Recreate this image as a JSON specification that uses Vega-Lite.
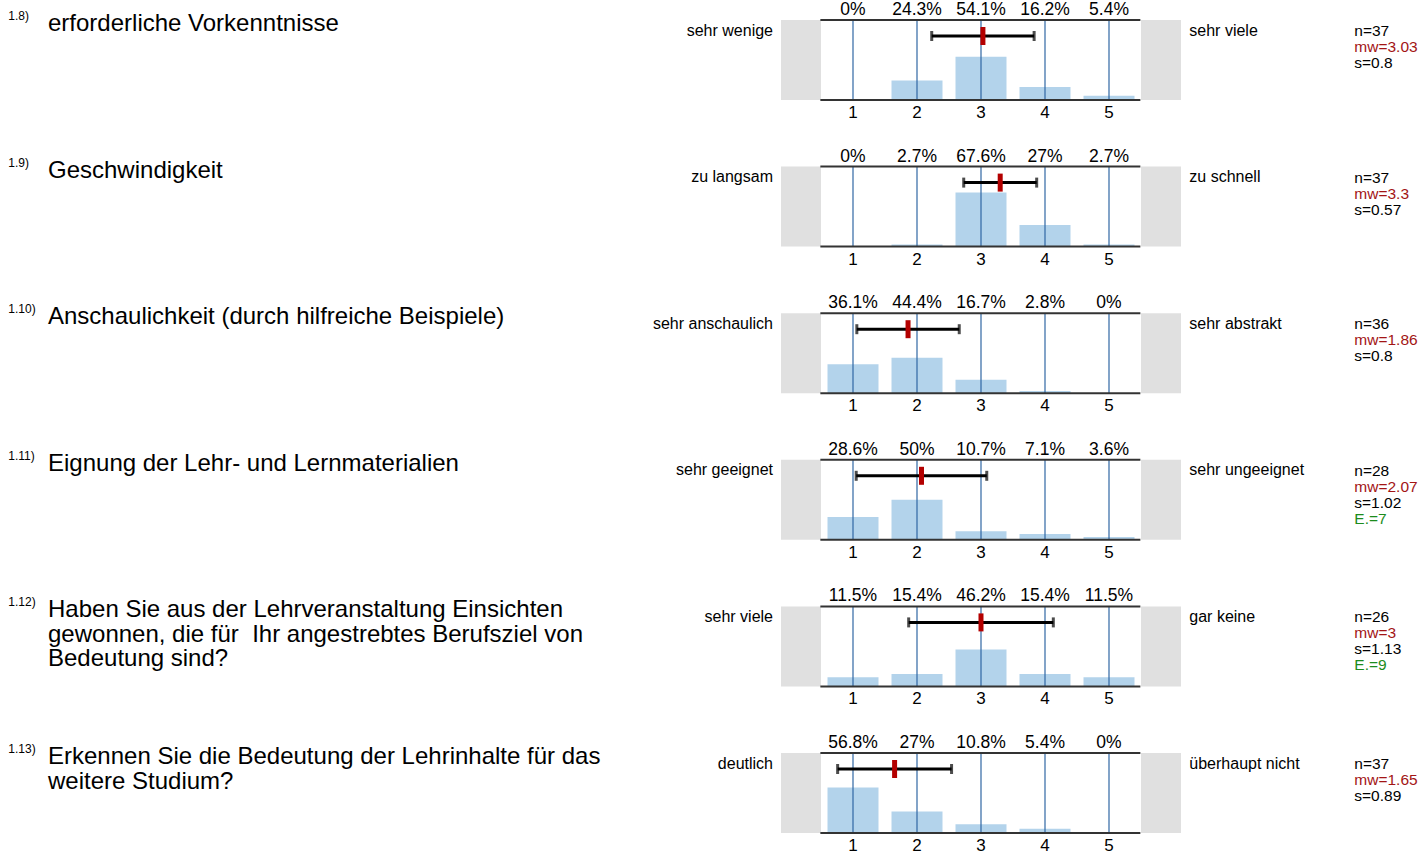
{
  "$schema": "https://vega.github.io/schema/vega-lite/v6.json",
  "padding": 0,
  "background": "white",
  "bounds": "flush",
  "config": {
    "view": {"stroke": null},
    "axis": {"disable": true},
    "font": "Liberation Sans",
    "text": {"font": "Liberation Sans", "color": "black"}
  },
  "data": {
    "values": [
      {"row": 1, "nr": "1.8)", "q": "erforderliche Vorkenntnisse", "left": "sehr wenige", "right": "sehr viele", "n": 37, "mw": 3.03, "s": 0.8},
      {"row": 1, "cat": 1, "p": 0},
      {"row": 1, "cat": 2, "p": 0.243},
      {"row": 1, "cat": 3, "p": 0.541},
      {"row": 1, "cat": 4, "p": 0.162},
      {"row": 1, "cat": 5, "p": 0.054},
      {"row": 2, "nr": "1.9)", "q": "Geschwindigkeit", "left": "zu langsam", "right": "zu schnell", "n": 37, "mw": 3.3, "s": 0.57},
      {"row": 2, "cat": 1, "p": 0},
      {"row": 2, "cat": 2, "p": 0.027},
      {"row": 2, "cat": 3, "p": 0.676},
      {"row": 2, "cat": 4, "p": 0.27},
      {"row": 2, "cat": 5, "p": 0.027},
      {"row": 3, "nr": "1.10)", "q": "Anschaulichkeit (durch hilfreiche Beispiele)", "left": "sehr anschaulich", "right": "sehr abstrakt", "n": 36, "mw": 1.86, "s": 0.8},
      {"row": 3, "cat": 1, "p": 0.361},
      {"row": 3, "cat": 2, "p": 0.444},
      {"row": 3, "cat": 3, "p": 0.167},
      {"row": 3, "cat": 4, "p": 0.028},
      {"row": 3, "cat": 5, "p": 0},
      {"row": 4, "nr": "1.11)", "q": "Eignung der Lehr- und Lernmaterialien", "left": "sehr geeignet", "right": "sehr ungeeignet", "n": 28, "mw": 2.07, "s": 1.02, "E": 7},
      {"row": 4, "cat": 1, "p": 0.286},
      {"row": 4, "cat": 2, "p": 0.5},
      {"row": 4, "cat": 3, "p": 0.107},
      {"row": 4, "cat": 4, "p": 0.071},
      {"row": 4, "cat": 5, "p": 0.036},
      {"row": 5, "nr": "1.12)", "q": "Haben Sie aus der Lehrveranstaltung Einsichten\ngewonnen, die für\u00a0 Ihr angestrebtes Berufsziel von\nBedeutung sind?", "left": "sehr viele", "right": "gar keine", "n": 26, "mw": 3, "s": 1.13, "E": 9},
      {"row": 5, "cat": 1, "p": 0.115},
      {"row": 5, "cat": 2, "p": 0.154},
      {"row": 5, "cat": 3, "p": 0.462},
      {"row": 5, "cat": 4, "p": 0.154},
      {"row": 5, "cat": 5, "p": 0.115},
      {"row": 6, "nr": "1.13)", "q": "Erkennen Sie die Bedeutung der Lehrinhalte für das\nweitere Studium?", "left": "deutlich", "right": "überhaupt nicht", "n": 37, "mw": 1.65, "s": 0.89},
      {"row": 6, "cat": 1, "p": 0.568},
      {"row": 6, "cat": 2, "p": 0.27},
      {"row": 6, "cat": 3, "p": 0.108},
      {"row": 6, "cat": 4, "p": 0.054},
      {"row": 6, "cat": 5, "p": 0}
    ]
  },
  "facet": {"row": {"field": "row", "type": "ordinal", "header": null}},
  "spacing": {"row": 25.6},
  "spec": {
    "width": 1421,
    "height": 121,
    "layer": [
      {
        "transform": [{"filter": "datum.mw != null"}],
        "mark": {"type": "rect", "color": "#e0e0e0"},
        "encoding": {
          "x": {"datum": -0.125, "type": "quantitative", "scale": {"domain": [-12.328125, 9.875], "nice": false, "zero": false, "padding": 0}},
          "x2": {"datum": 0.5},
          "y": {"datum": 0, "type": "quantitative", "scale": {"domain": [-0.2625, 1.25], "nice": false, "zero": false, "padding": 0}},
          "y2": {"datum": 1}
        }
      },
      {
        "transform": [{"filter": "datum.mw != null"}],
        "mark": {"type": "rect", "color": "#e0e0e0"},
        "encoding": {
          "x": {"datum": 5.5, "type": "quantitative", "scale": {"domain": [-12.328125, 9.875], "nice": false, "zero": false, "padding": 0}},
          "x2": {"datum": 6.125},
          "y": {"datum": 0, "type": "quantitative", "scale": {"domain": [-0.2625, 1.25], "nice": false, "zero": false, "padding": 0}},
          "y2": {"datum": 1}
        }
      },
      {
        "transform": [{"filter": "datum.cat != null"}],
        "mark": {"type": "bar", "color": "#b3d3eb", "width": 51, "orient": "vertical"},
        "encoding": {
          "x": {"field": "cat", "type": "quantitative", "scale": {"domain": [-12.328125, 9.875], "nice": false, "zero": false, "padding": 0}},
          "y": {"field": "p", "type": "quantitative", "scale": {"domain": [-0.2625, 1.25], "nice": false, "zero": false, "padding": 0}},
          "y2": {"datum": 0}
        }
      },
      {
        "transform": [{"filter": "datum.cat != null"}],
        "mark": {"type": "rule", "color": "#2f67a3", "strokeWidth": 1.2},
        "encoding": {
          "x": {"field": "cat", "type": "quantitative", "scale": {"domain": [-12.328125, 9.875], "nice": false, "zero": false, "padding": 0}},
          "y": {"datum": 0, "type": "quantitative", "scale": {"domain": [-0.2625, 1.25], "nice": false, "zero": false, "padding": 0}},
          "y2": {"datum": 1}
        }
      },
      {
        "transform": [{"filter": "datum.mw != null"}],
        "mark": {"type": "rule", "color": "#333333", "strokeWidth": 2},
        "encoding": {
          "x": {"datum": 0.49, "type": "quantitative", "scale": {"domain": [-12.328125, 9.875], "nice": false, "zero": false, "padding": 0}},
          "x2": {"datum": 5.49},
          "y": {"datum": 1, "type": "quantitative", "scale": {"domain": [-0.2625, 1.25], "nice": false, "zero": false, "padding": 0}}
        }
      },
      {
        "transform": [{"filter": "datum.mw != null"}],
        "mark": {"type": "rule", "color": "#333333", "strokeWidth": 2},
        "encoding": {
          "x": {"datum": 0.49, "type": "quantitative", "scale": {"domain": [-12.328125, 9.875], "nice": false, "zero": false, "padding": 0}},
          "x2": {"datum": 5.49},
          "y": {"datum": 0, "type": "quantitative", "scale": {"domain": [-0.2625, 1.25], "nice": false, "zero": false, "padding": 0}}
        }
      },
      {
        "transform": [{"filter": "datum.mw != null"}],
        "mark": {"type": "errorbar", "color": "black", "thickness": 3, "ticks": {"size": 10, "thickness": 3, "color": "black"}},
        "encoding": {
          "x": {"field": "mw", "type": "quantitative", "scale": {"domain": [-12.328125, 9.875], "nice": false, "zero": false, "padding": 0}},
          "xError": {"field": "s"},
          "y": {"datum": 0.8, "type": "quantitative", "scale": {"domain": [-0.2625, 1.25], "nice": false, "zero": false, "padding": 0}}
        }
      },
      {
        "transform": [{"filter": "datum.mw != null"}],
        "mark": {"type": "tick", "color": "#b30000", "orient": "vertical", "size": 18, "thickness": 5, "opacity": 1},
        "encoding": {
          "x": {"field": "mw", "type": "quantitative", "scale": {"domain": [-12.328125, 9.875], "nice": false, "zero": false, "padding": 0}},
          "y": {"datum": 0.8, "type": "quantitative", "scale": {"domain": [-0.2625, 1.25], "nice": false, "zero": false, "padding": 0}}
        }
      },
      {
        "transform": [{"filter": "datum.cat != null"}],
        "mark": {"type": "text", "fontSize": 17.5, "align": "center", "baseline": "alphabetic"},
        "encoding": {
          "x": {"field": "cat", "type": "quantitative", "scale": {"domain": [-12.328125, 9.875], "nice": false, "zero": false, "padding": 0}},
          "y": {"datum": 1.0625, "type": "quantitative", "scale": {"domain": [-0.2625, 1.25], "nice": false, "zero": false, "padding": 0}},
          "text": {"field": "p", "type": "quantitative", "format": ".1~%"}
        }
      },
      {
        "transform": [{"filter": "datum.cat != null"}],
        "mark": {"type": "text", "fontSize": 17, "align": "center", "baseline": "alphabetic"},
        "encoding": {
          "x": {"field": "cat", "type": "quantitative", "scale": {"domain": [-12.328125, 9.875], "nice": false, "zero": false, "padding": 0}},
          "y": {"datum": -0.225, "type": "quantitative", "scale": {"domain": [-0.2625, 1.25], "nice": false, "zero": false, "padding": 0}},
          "text": {"field": "cat", "type": "nominal"}
        }
      },
      {
        "transform": [{"filter": "datum.mw != null"}],
        "mark": {"type": "text", "fontSize": 12, "align": "left", "baseline": "alphabetic"},
        "encoding": {
          "x": {"datum": -12.198, "type": "quantitative", "scale": {"domain": [-12.328125, 9.875], "nice": false, "zero": false, "padding": 0}},
          "y": {"datum": 1.0, "type": "quantitative", "scale": {"domain": [-0.2625, 1.25], "nice": false, "zero": false, "padding": 0}},
          "text": {"field": "nr", "type": "nominal"}
        }
      },
      {
        "transform": [{"filter": "datum.mw != null"}],
        "mark": {"type": "text", "fontSize": 24, "align": "left", "baseline": "alphabetic", "lineBreak": "\n", "lineHeight": 24.5},
        "encoding": {
          "x": {"datum": -11.578, "type": "quantitative", "scale": {"domain": [-12.328125, 9.875], "nice": false, "zero": false, "padding": 0}},
          "y": {"datum": 0.8625, "type": "quantitative", "scale": {"domain": [-0.2625, 1.25], "nice": false, "zero": false, "padding": 0}},
          "text": {"field": "q", "type": "nominal"}
        }
      },
      {
        "transform": [{"filter": "datum.mw != null"}],
        "mark": {"type": "text", "fontSize": 16, "align": "right", "baseline": "alphabetic"},
        "encoding": {
          "x": {"datum": -0.25, "type": "quantitative", "scale": {"domain": [-12.328125, 9.875], "nice": false, "zero": false, "padding": 0}},
          "y": {"datum": 0.80625, "type": "quantitative", "scale": {"domain": [-0.2625, 1.25], "nice": false, "zero": false, "padding": 0}},
          "text": {"field": "left", "type": "nominal"}
        }
      },
      {
        "transform": [{"filter": "datum.mw != null"}],
        "mark": {"type": "text", "fontSize": 16, "align": "left", "baseline": "alphabetic"},
        "encoding": {
          "x": {"datum": 6.255, "type": "quantitative", "scale": {"domain": [-12.328125, 9.875], "nice": false, "zero": false, "padding": 0}},
          "y": {"datum": 0.80625, "type": "quantitative", "scale": {"domain": [-0.2625, 1.25], "nice": false, "zero": false, "padding": 0}},
          "text": {"field": "right", "type": "nominal"}
        }
      },
      {
        "transform": [{"filter": "datum.mw != null"}, {"calculate": "'n=' + datum.n", "as": "nlab"}],
        "mark": {"type": "text", "fontSize": 15.5, "align": "left", "baseline": "alphabetic"},
        "encoding": {
          "x": {"datum": 8.833, "type": "quantitative", "scale": {"domain": [-12.328125, 9.875], "nice": false, "zero": false, "padding": 0}},
          "y": {"datum": 0.8, "type": "quantitative", "scale": {"domain": [-0.2625, 1.25], "nice": false, "zero": false, "padding": 0}},
          "text": {"field": "nlab", "type": "nominal"}
        }
      },
      {
        "transform": [{"filter": "datum.mw != null"}, {"calculate": "'mw=' + datum.mw", "as": "mwlab"}],
        "mark": {"type": "text", "fontSize": 15.5, "align": "left", "baseline": "alphabetic", "color": "#a31515"},
        "encoding": {
          "x": {"datum": 8.833, "type": "quantitative", "scale": {"domain": [-12.328125, 9.875], "nice": false, "zero": false, "padding": 0}},
          "y": {"datum": 0.6, "type": "quantitative", "scale": {"domain": [-0.2625, 1.25], "nice": false, "zero": false, "padding": 0}},
          "text": {"field": "mwlab", "type": "nominal"}
        }
      },
      {
        "transform": [{"filter": "datum.mw != null"}, {"calculate": "'s=' + datum.s", "as": "slab"}],
        "mark": {"type": "text", "fontSize": 15.5, "align": "left", "baseline": "alphabetic"},
        "encoding": {
          "x": {"datum": 8.833, "type": "quantitative", "scale": {"domain": [-12.328125, 9.875], "nice": false, "zero": false, "padding": 0}},
          "y": {"datum": 0.4, "type": "quantitative", "scale": {"domain": [-0.2625, 1.25], "nice": false, "zero": false, "padding": 0}},
          "text": {"field": "slab", "type": "nominal"}
        }
      },
      {
        "transform": [{"filter": "datum.E != null"}, {"calculate": "'E.=' + datum.E", "as": "elab"}],
        "mark": {"type": "text", "fontSize": 15.5, "align": "left", "baseline": "alphabetic", "color": "#1c8c1c"},
        "encoding": {
          "x": {"datum": 8.833, "type": "quantitative", "scale": {"domain": [-12.328125, 9.875], "nice": false, "zero": false, "padding": 0}},
          "y": {"datum": 0.2, "type": "quantitative", "scale": {"domain": [-0.2625, 1.25], "nice": false, "zero": false, "padding": 0}},
          "text": {"field": "elab", "type": "nominal"}
        }
      }
    ]
  }
}
